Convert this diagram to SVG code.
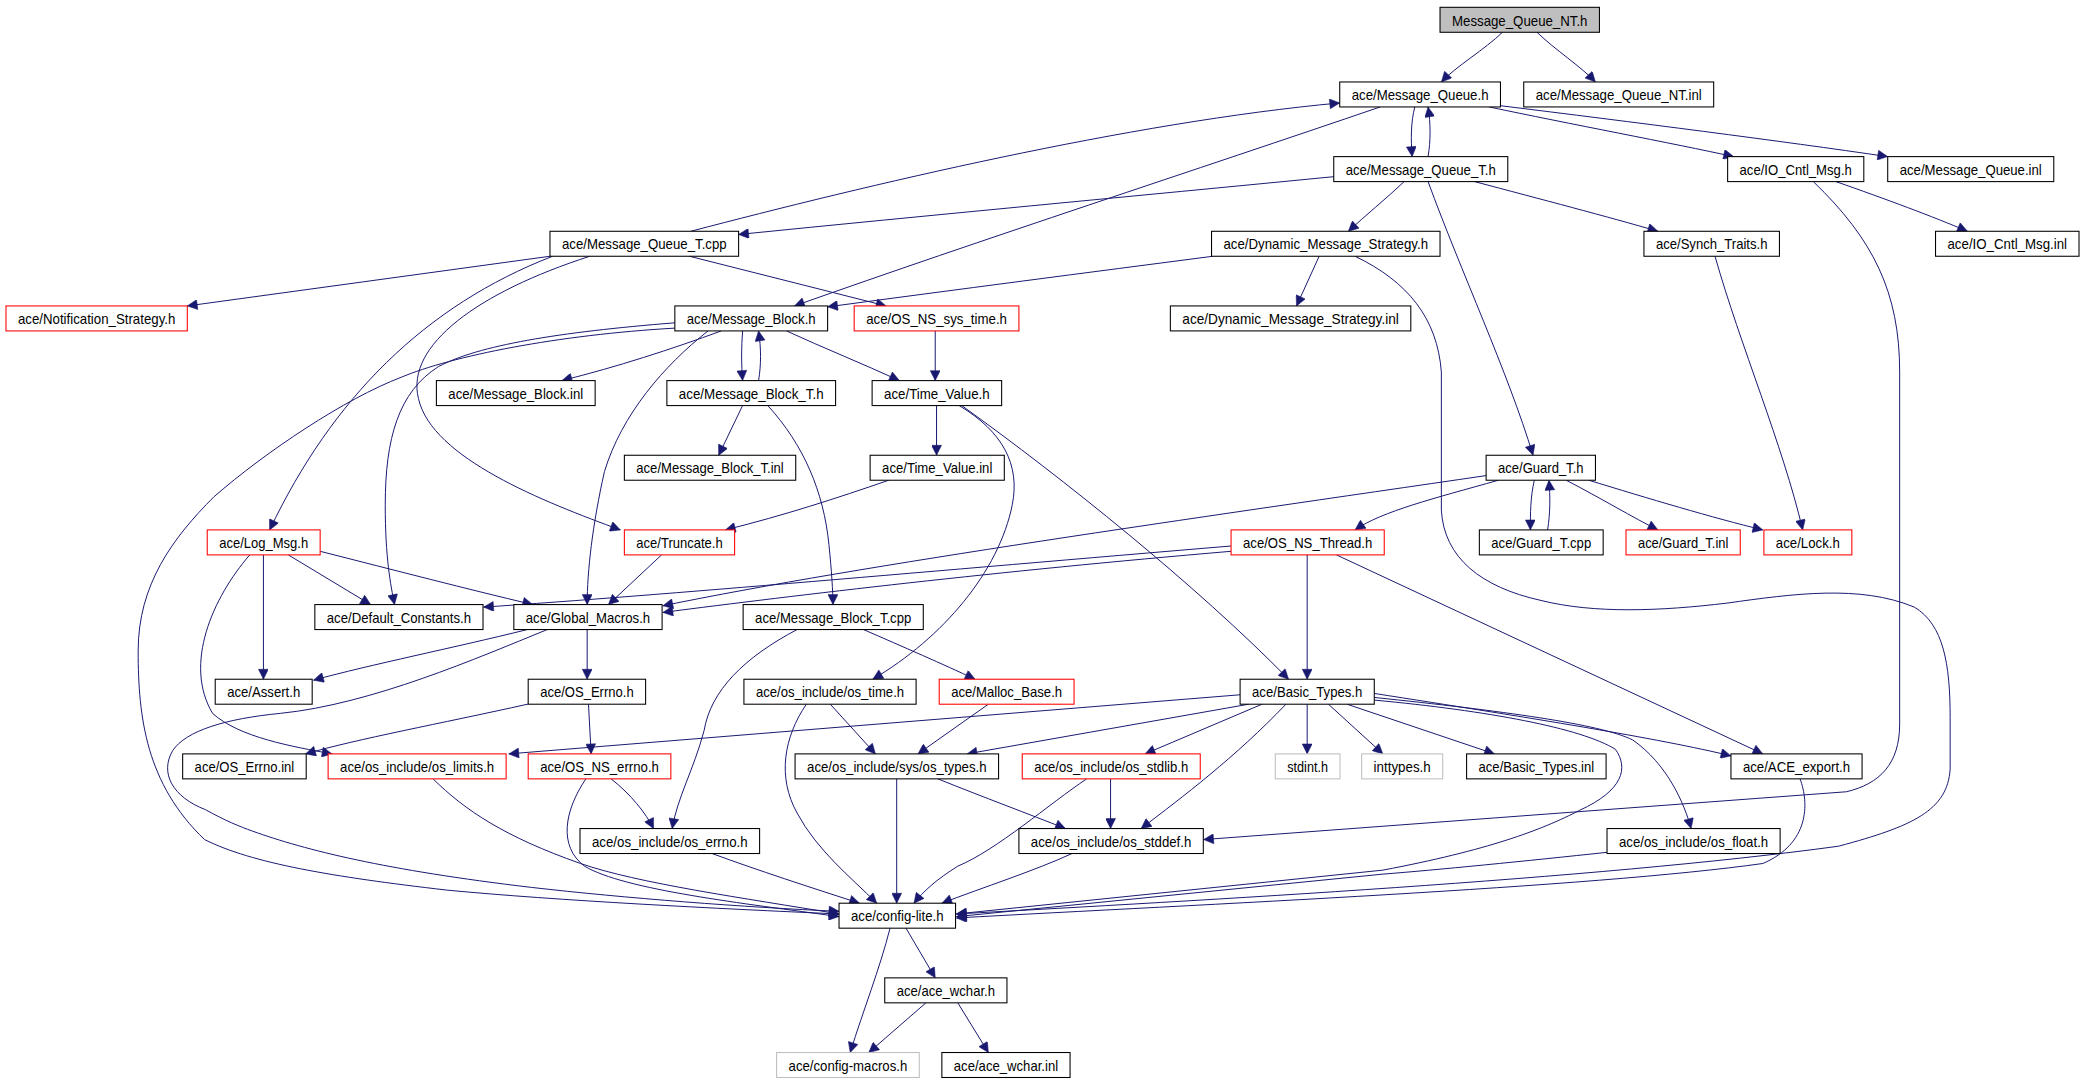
<svg xmlns="http://www.w3.org/2000/svg" width="2083" height="1083" viewBox="0 0 2083 1083">
<style>
.n rect{fill:#ffffff;stroke:#000000;stroke-width:0.8}
.n.r rect{stroke:#ff0000}
.n.g rect{stroke:#bfbfbf}
.n.root rect{fill:#bfbfbf}
.n text{font-family:"Liberation Sans",Arial,sans-serif;font-size:10.8px;fill:#000000;text-anchor:middle}
#edges path{fill:none;stroke:#191970;stroke-width:0.75;marker-end:url(#arr)}
</style>
<defs>
<marker id="arr" viewBox="0 0 10 10" refX="10" refY="5" markerWidth="10" markerHeight="7.5" markerUnits="userSpaceOnUse" orient="auto">
<path d="M0,0 L10,5 L0,10 z" fill="#191970" stroke="#191970" stroke-width="0.5"/>
</marker>
</defs>
<rect x="0" y="0" width="2083" height="1083" fill="#ffffff"/>
<g transform="scale(1.32844)">
<g id="edges">
<path d="M1131,24.3 C1118,37 1096,50 1085,61.7"/>
<path d="M1157,24.3 C1170,37 1190,50 1201,61.7"/>
<path d="M1065,80.5 C1062,92 1062,105 1063,117.9"/>
<path d="M1075,117.9 C1077,106 1077,93 1075,80.5"/>
<path d="M1121,80.5 C1180,93 1260,108 1305,117.9"/>
<path d="M1129,79.5 C1230,92 1340,106 1421,117.9"/>
<path d="M1039,80.5 C900,128 740,180 598,230.3"/>
<path d="M520,174.1 C650,140 850,92 1008.5,77.5"/>
<path d="M1004,133 C850,148 700,162 556,176.5"/>
<path d="M1057,136.7 C1043,150 1028,162 1015,174.1"/>
<path d="M1110,136.7 C1160,150 1210,163 1248,174.1"/>
<path d="M1075,136.7 C1100,205 1135,280 1154,342.7"/>
<path d="M1382,136.7 C1420,150 1455,163 1481,174.1"/>
<path d="M1365,136.7 C1410,180 1430,220 1430,280 L1430,545 C1430,575 1415,590 1390,596 L906,632"/>
<path d="M414,192.9 L141,230.3"/>
<path d="M519,192.9 L667,230.3"/>
<path d="M416,192.9 C320,230 250,300 203,398.9"/>
<path d="M444,192.9 C360,220 305,260 315,300 C325,345 410,378 467,398.9"/>
<path d="M913,192.9 C820,205 720,218 623,231"/>
<path d="M993,192.9 L976,230.3"/>
<path d="M1020,192.9 C1060,212 1082,240 1085,280 L1085,384 C1087,420 1115,442 1160,452 C1200,462 1250,460 1300,454 C1350,447 1400,440 1441,457 C1463,470 1468,500 1468,540 L1468,579 C1466,610 1440,622 1384,637 C1200,662 900,678 720,688"/>
<path d="M1291,192.9 C1310,260 1342,335 1357,398.9"/>
<path d="M543,249.1 C505,263 465,276 423,286.5"/>
<path d="M559,249.1 C558,262 558,274 559,286.5"/>
<path d="M571,286.5 C573,275 573,262 571,249.1"/>
<path d="M592,249.1 C620,262 650,274 677,286.5"/>
<path d="M533,249.1 C500,275 468,312 455,355 C446,395 442,430 442,455.1"/>
<path d="M508,243 C420,250 360,260 330,276 C300,295 290,330 290,380 C290,420 294,440 297,455.1"/>
<path d="M508,247 C420,252 340,268 302,284 C260,300 200,340 161,374 C130,405 104,440 104,490 C104,540 110,590 154,632 C190,650 250,660 336,670 C420,678 540,684 631.6,688"/>
<path d="M704,249.1 L704,286.5"/>
<path d="M559,305.3 L541,342.7"/>
<path d="M578,305.3 C605,335 620,370 624,410 C626,430 627,445 627,455.1"/>
<path d="M705,305.3 L705,342.7"/>
<path d="M722,305.3 C755,325 768,350 762,380 C752,430 710,480 657,511.3"/>
<path d="M724,305.3 C800,360 900,440 970,511.3"/>
<path d="M669,361.5 C630,375 590,388 546,398.9"/>
<path d="M1155,361.5 C1152,374 1152,387 1152,398.9"/>
<path d="M1165,398.9 C1167,386 1167,374 1166,361.5"/>
<path d="M1179,361.5 C1205,375 1230,390 1248,398.9"/>
<path d="M1196,361.5 C1240,375 1290,390 1327,398.9"/>
<path d="M1128,361.5 C1080,375 1040,385 1020,398.9"/>
<path d="M1118.7,358 C900,390 650,425 499,456"/>
<path d="M217,417.7 L279,455.1"/>
<path d="M241,415 C300,430 350,443 401,455.1"/>
<path d="M198.3,417.7 L198.3,511.3"/>
<path d="M188,417.7 C160,450 138,500 160,537 C180,555 220,562 250,567.5"/>
<path d="M498,417.7 L458,455.1"/>
<path d="M926.7,411 C700,430 500,448 364,457"/>
<path d="M926.7,415 C750,430 600,448 499,461"/>
<path d="M984,417.7 L984,511.3"/>
<path d="M1006,417.7 L1327,567.5"/>
<path d="M397,473.9 C340,488 280,500 236,512"/>
<path d="M442,473.9 L442,511.3"/>
<path d="M412,473.9 C360,495 280,530 211,537 C170,541 140,550 130,565 C120,582 130,600 154.7,609.5 C170,618 180,622 190,625.6 C230,640 290,655 400,668 C470,676 560,683 631.6,686"/>
<path d="M650,473.9 C680,487 710,500 734,511.3"/>
<path d="M600,473.9 C560,495 535,520 530,550 C522,580 510,600 506,623.7"/>
<path d="M397.6,530 C330,545 270,556 230,567.5"/>
<path d="M443,530.1 L445,567.5"/>
<path d="M625,530.1 L659,567.5"/>
<path d="M607,530.1 C590,555 585,585 600,612 C615,640 640,660 660,679.9"/>
<path d="M744,530.1 L691,567.5"/>
<path d="M933.5,523 L383,567.5"/>
<path d="M940,530.1 L728,567.5"/>
<path d="M950,530.1 L862,567.5"/>
<path d="M984,530.1 L984,567.5"/>
<path d="M1000,530.1 L1041,567.5"/>
<path d="M1014,530.1 L1125,567.5"/>
<path d="M1034.5,522 C1150,540 1250,556 1303,569"/>
<path d="M968,530.1 C930,570 890,600 859,623.7"/>
<path d="M1034.5,525 C1130,535 1205,545 1229,557 C1255,575 1268,605 1273,623.7"/>
<path d="M1034.5,527 C1120,535 1190,548 1216,564 C1226,578 1222,595 1189,610 C1160,625 1120,640 1041,655 L720,688"/>
<path d="M326,586.3 C350,610 380,630 437,650 C480,665 560,676 631.6,688"/>
<path d="M460,586.3 C475,598 486,612 492,623.7"/>
<path d="M441,586.3 C425,610 420,637 440,652 C470,670 560,680 631.6,690"/>
<path d="M675,586.3 L675,679.9"/>
<path d="M706,586.3 C740,600 775,613 802,623.7"/>
<path d="M836,586.3 L836,623.7"/>
<path d="M818,586.3 C790,605 750,640 721,652 C705,662 695,671 688,679.9"/>
<path d="M536,642.5 C570,655 610,668 647,679.9"/>
<path d="M807,642.5 C780,655 740,668 709,679.9"/>
<path d="M1209.7,641.6 C1150,648 1080,655 1041,658 L720,690"/>
<path d="M1355,586.3 C1362,605 1362,635 1327,650 C1200,668 900,681 720,691"/>
<path d="M682,698.7 L704,736.1"/>
<path d="M670,698.7 C662,730 650,760 640,792.3"/>
<path d="M697,754.9 L654,792.3"/>
<path d="M721,754.9 L744,792.3"/>
</g>
<g id="n0" class="n root"><rect x="1084" y="5.5" width="120" height="18.8"/><text x="1144" y="19.2" textLength="102" lengthAdjust="spacingAndGlyphs">Message_Queue_NT.h</text></g>
<g id="mq" class="n"><rect x="1008.5" y="61.7" width="121" height="18.8"/><text x="1069" y="75.4" textLength="103" lengthAdjust="spacingAndGlyphs">ace/Message_Queue.h</text></g>
<g id="mqntinl" class="n"><rect x="1147" y="61.7" width="143" height="18.8"/><text x="1218.5" y="75.4" textLength="125" lengthAdjust="spacingAndGlyphs">ace/Message_Queue_NT.inl</text></g>
<g id="mqt" class="n"><rect x="1004" y="117.9" width="131" height="18.8"/><text x="1069.5" y="131.6" textLength="113" lengthAdjust="spacingAndGlyphs">ace/Message_Queue_T.h</text></g>
<g id="ioc" class="n"><rect x="1300.5" y="117.9" width="102.5" height="18.8"/><text x="1351.75" y="131.6" textLength="84.5" lengthAdjust="spacingAndGlyphs">ace/IO_Cntl_Msg.h</text></g>
<g id="mqinl" class="n"><rect x="1421" y="117.9" width="125" height="18.8"/><text x="1483.5" y="131.6" textLength="107" lengthAdjust="spacingAndGlyphs">ace/Message_Queue.inl</text></g>
<g id="mqtcpp" class="n"><rect x="414" y="174.1" width="142" height="18.8"/><text x="485" y="187.8" textLength="124" lengthAdjust="spacingAndGlyphs">ace/Message_Queue_T.cpp</text></g>
<g id="dms" class="n"><rect x="912" y="174.1" width="172" height="18.8"/><text x="998" y="187.8" textLength="154" lengthAdjust="spacingAndGlyphs">ace/Dynamic_Message_Strategy.h</text></g>
<g id="st" class="n"><rect x="1237.5" y="174.1" width="102" height="18.8"/><text x="1288.5" y="187.8" textLength="84" lengthAdjust="spacingAndGlyphs">ace/Synch_Traits.h</text></g>
<g id="iocinl" class="n"><rect x="1457" y="174.1" width="108" height="18.8"/><text x="1511" y="187.8" textLength="90" lengthAdjust="spacingAndGlyphs">ace/IO_Cntl_Msg.inl</text></g>
<g id="ns" class="n r"><rect x="4.5" y="230.3" width="136.5" height="18.8"/><text x="72.75" y="244" textLength="118.5" lengthAdjust="spacingAndGlyphs">ace/Notification_Strategy.h</text></g>
<g id="mb" class="n"><rect x="508" y="230.3" width="115" height="18.8"/><text x="565.5" y="244" textLength="97" lengthAdjust="spacingAndGlyphs">ace/Message_Block.h</text></g>
<g id="osnst" class="n r"><rect x="643" y="230.3" width="124" height="18.8"/><text x="705" y="244" textLength="106" lengthAdjust="spacingAndGlyphs">ace/OS_NS_sys_time.h</text></g>
<g id="dmsinl" class="n"><rect x="881" y="230.3" width="181" height="18.8"/><text x="971.5" y="244" textLength="163" lengthAdjust="spacingAndGlyphs">ace/Dynamic_Message_Strategy.inl</text></g>
<g id="mbinl" class="n"><rect x="328.5" y="286.5" width="119.5" height="18.8"/><text x="388.25" y="300.2" textLength="101.5" lengthAdjust="spacingAndGlyphs">ace/Message_Block.inl</text></g>
<g id="mbt" class="n"><rect x="502" y="286.5" width="127" height="18.8"/><text x="565.5" y="300.2" textLength="109" lengthAdjust="spacingAndGlyphs">ace/Message_Block_T.h</text></g>
<g id="tv" class="n"><rect x="656.5" y="286.5" width="97.5" height="18.8"/><text x="705.25" y="300.2" textLength="79.5" lengthAdjust="spacingAndGlyphs">ace/Time_Value.h</text></g>
<g id="mbtinl" class="n"><rect x="470" y="342.7" width="129" height="18.8"/><text x="534.5" y="356.4" textLength="111" lengthAdjust="spacingAndGlyphs">ace/Message_Block_T.inl</text></g>
<g id="tvinl" class="n"><rect x="655" y="342.7" width="101" height="18.8"/><text x="705.5" y="356.4" textLength="83" lengthAdjust="spacingAndGlyphs">ace/Time_Value.inl</text></g>
<g id="gt" class="n"><rect x="1118.7" y="342.7" width="82.3" height="18.8"/><text x="1159.85" y="356.4" textLength="64.3" lengthAdjust="spacingAndGlyphs">ace/Guard_T.h</text></g>
<g id="lm" class="n r"><rect x="156" y="398.9" width="85" height="18.8"/><text x="198.5" y="412.6" textLength="67" lengthAdjust="spacingAndGlyphs">ace/Log_Msg.h</text></g>
<g id="tr" class="n r"><rect x="470" y="398.9" width="83" height="18.8"/><text x="511.5" y="412.6" textLength="65" lengthAdjust="spacingAndGlyphs">ace/Truncate.h</text></g>
<g id="osnsth" class="n r"><rect x="926.7" y="398.9" width="115.3" height="18.8"/><text x="984.35" y="412.6" textLength="97.3" lengthAdjust="spacingAndGlyphs">ace/OS_NS_Thread.h</text></g>
<g id="gtcpp" class="n"><rect x="1113.6" y="398.9" width="93.2" height="18.8"/><text x="1160.2" y="412.6" textLength="75.2" lengthAdjust="spacingAndGlyphs">ace/Guard_T.cpp</text></g>
<g id="gtinl" class="n r"><rect x="1224" y="398.9" width="86" height="18.8"/><text x="1267" y="412.6" textLength="68" lengthAdjust="spacingAndGlyphs">ace/Guard_T.inl</text></g>
<g id="lock" class="n r"><rect x="1327.8" y="398.9" width="66.2" height="18.8"/><text x="1360.9" y="412.6" textLength="48.2" lengthAdjust="spacingAndGlyphs">ace/Lock.h</text></g>
<g id="dc" class="n"><rect x="237" y="455.1" width="126.6" height="18.8"/><text x="300.3" y="468.8" textLength="108.6" lengthAdjust="spacingAndGlyphs">ace/Default_Constants.h</text></g>
<g id="gm" class="n"><rect x="386.8" y="455.1" width="111.6" height="18.8"/><text x="442.6" y="468.8" textLength="93.6" lengthAdjust="spacingAndGlyphs">ace/Global_Macros.h</text></g>
<g id="mbtcpp" class="n"><rect x="559.4" y="455.1" width="135.6" height="18.8"/><text x="627.2" y="468.8" textLength="117.6" lengthAdjust="spacingAndGlyphs">ace/Message_Block_T.cpp</text></g>
<g id="as" class="n"><rect x="162" y="511.3" width="73" height="18.8"/><text x="198.5" y="525" textLength="55" lengthAdjust="spacingAndGlyphs">ace/Assert.h</text></g>
<g id="oe" class="n"><rect x="397.6" y="511.3" width="88.4" height="18.8"/><text x="441.8" y="525" textLength="70.4" lengthAdjust="spacingAndGlyphs">ace/OS_Errno.h</text></g>
<g id="ot" class="n"><rect x="560" y="511.3" width="129.6" height="18.8"/><text x="624.8" y="525" textLength="111.6" lengthAdjust="spacingAndGlyphs">ace/os_include/os_time.h</text></g>
<g id="ma" class="n r"><rect x="707" y="511.3" width="101.5" height="18.8"/><text x="757.75" y="525" textLength="83.5" lengthAdjust="spacingAndGlyphs">ace/Malloc_Base.h</text></g>
<g id="bt" class="n"><rect x="933.5" y="511.3" width="101" height="18.8"/><text x="984" y="525" textLength="83" lengthAdjust="spacingAndGlyphs">ace/Basic_Types.h</text></g>
<g id="oeinl" class="n"><rect x="137.5" y="567.5" width="93" height="18.8"/><text x="184" y="581.2" textLength="75" lengthAdjust="spacingAndGlyphs">ace/OS_Errno.inl</text></g>
<g id="ol" class="n r"><rect x="247" y="567.5" width="134" height="18.8"/><text x="314" y="581.2" textLength="116" lengthAdjust="spacingAndGlyphs">ace/os_include/os_limits.h</text></g>
<g id="osnse" class="n r"><rect x="397.6" y="567.5" width="107.4" height="18.8"/><text x="451.3" y="581.2" textLength="89.4" lengthAdjust="spacingAndGlyphs">ace/OS_NS_errno.h</text></g>
<g id="sot" class="n"><rect x="598.5" y="567.5" width="153.2" height="18.8"/><text x="675.1" y="581.2" textLength="135.2" lengthAdjust="spacingAndGlyphs">ace/os_include/sys/os_types.h</text></g>
<g id="osl" class="n r"><rect x="769.5" y="567.5" width="134" height="18.8"/><text x="836.5" y="581.2" textLength="116" lengthAdjust="spacingAndGlyphs">ace/os_include/os_stdlib.h</text></g>
<g id="stdint" class="n g"><rect x="960" y="567.5" width="48.7" height="18.8"/><text x="984.35" y="581.2" textLength="30.7" lengthAdjust="spacingAndGlyphs">stdint.h</text></g>
<g id="inttypes" class="n g"><rect x="1025" y="567.5" width="61" height="18.8"/><text x="1055.5" y="581.2" textLength="43" lengthAdjust="spacingAndGlyphs">inttypes.h</text></g>
<g id="btinl" class="n"><rect x="1104" y="567.5" width="105" height="18.8"/><text x="1156.5" y="581.2" textLength="87" lengthAdjust="spacingAndGlyphs">ace/Basic_Types.inl</text></g>
<g id="ae" class="n"><rect x="1303" y="567.5" width="98.7" height="18.8"/><text x="1352.35" y="581.2" textLength="80.7" lengthAdjust="spacingAndGlyphs">ace/ACE_export.h</text></g>
<g id="oer" class="n"><rect x="436.6" y="623.7" width="135.2" height="18.8"/><text x="504.2" y="637.4" textLength="117.2" lengthAdjust="spacingAndGlyphs">ace/os_include/os_errno.h</text></g>
<g id="osd" class="n"><rect x="767" y="623.7" width="138.8" height="18.8"/><text x="836.4" y="637.4" textLength="120.8" lengthAdjust="spacingAndGlyphs">ace/os_include/os_stddef.h</text></g>
<g id="of" class="n"><rect x="1209.7" y="623.7" width="130.3" height="18.8"/><text x="1274.85" y="637.4" textLength="112.3" lengthAdjust="spacingAndGlyphs">ace/os_include/os_float.h</text></g>
<g id="cl" class="n"><rect x="631.6" y="679.9" width="87.7" height="18.8"/><text x="675.45" y="693.6" textLength="69.7" lengthAdjust="spacingAndGlyphs">ace/config-lite.h</text></g>
<g id="aw" class="n"><rect x="666" y="736.1" width="92" height="18.8"/><text x="712" y="749.8" textLength="74" lengthAdjust="spacingAndGlyphs">ace/ace_wchar.h</text></g>
<g id="cm" class="n g"><rect x="584.6" y="792.3" width="107.4" height="18.8"/><text x="638.3" y="806" textLength="89.4" lengthAdjust="spacingAndGlyphs">ace/config-macros.h</text></g>
<g id="awinl" class="n"><rect x="709" y="792.3" width="96.5" height="18.8"/><text x="757.25" y="806" textLength="78.5" lengthAdjust="spacingAndGlyphs">ace/ace_wchar.inl</text></g>
</g>
</svg>
